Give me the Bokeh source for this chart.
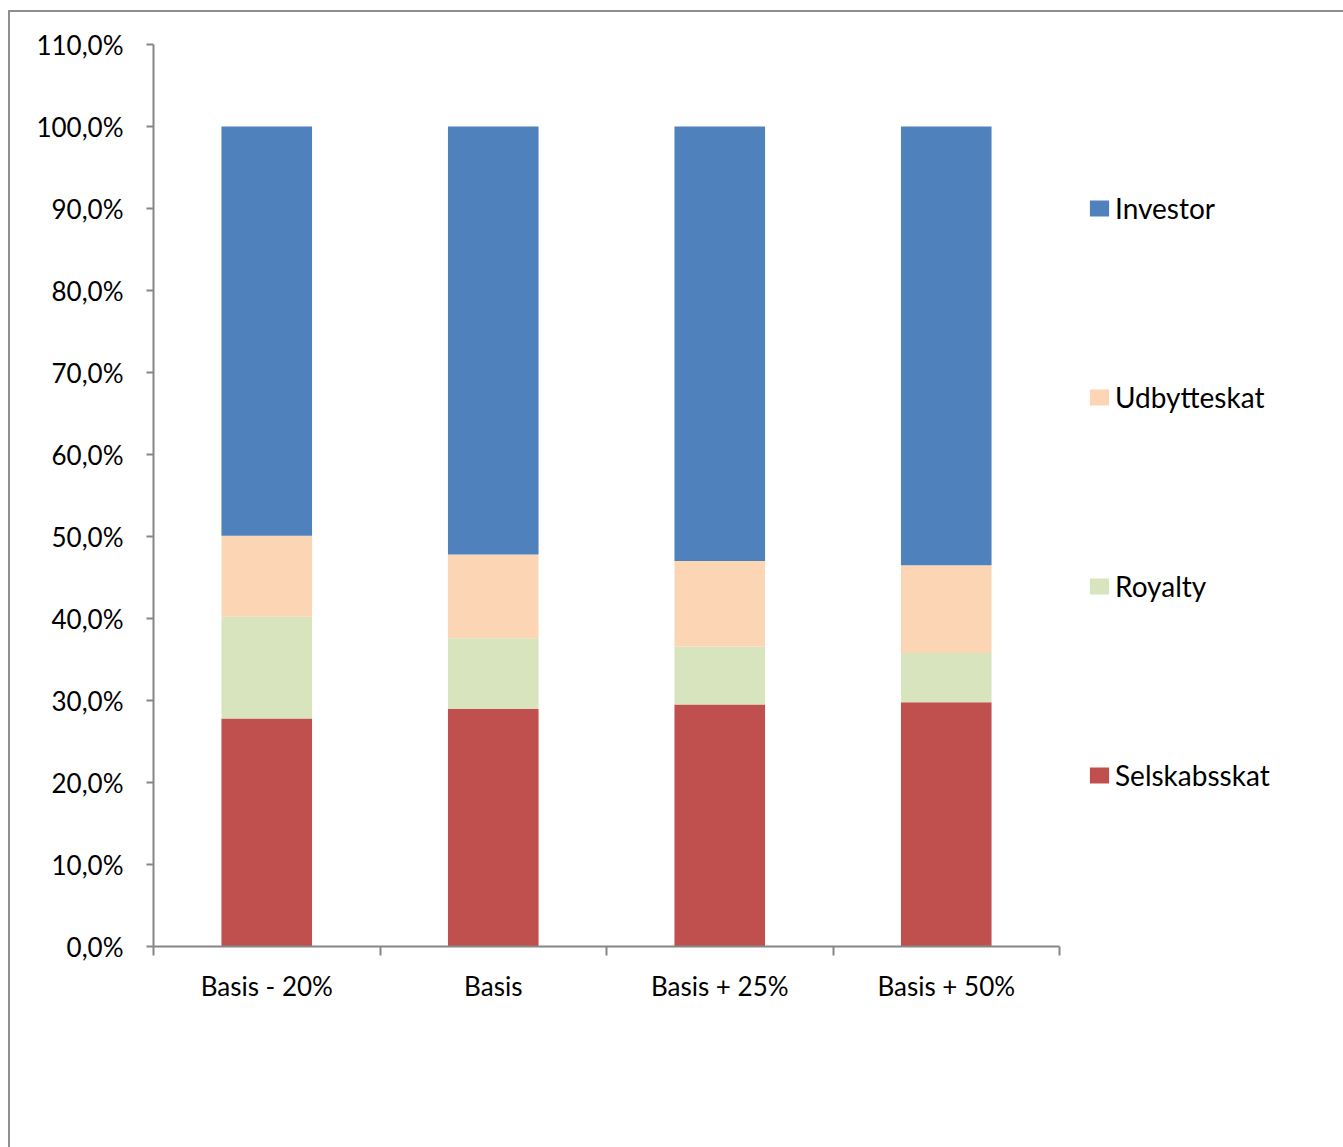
from bokeh.plotting import figure
from bokeh.models import FixedTicker, Legend, LegendItem, ColumnDataSource, Range1d
from bokeh.embed import file_html
from bokeh.resources import INLINE

# ---- data ----
scenarios = ["Basis - 20%", "Basis", "Basis + 25%", "Basis + 50%"]
series = ["Selskabsskat", "Royalty", "Udbytteskat", "Investor"]
selskabsskat = [27.8, 29.0, 29.5, 29.8]
royalty = [12.4, 8.6, 7.1, 6.0]
udbytteskat = [9.9, 10.2, 10.4, 10.7]
investor = [49.9, 52.2, 53.0, 53.5]
colors = ["#C0504D", "#D7E4BD", "#FCD5B5", "#4F81BD"]
y_ticks = [0, 10, 20, 30, 40, 50, 60, 70, 80, 90, 100, 110]
y_tick_labels = ["0,0%", "10,0%", "20,0%", "30,0%", "40,0%", "50,0%",
                 "60,0%", "70,0%", "80,0%", "90,0%", "100,0%", "110,0%"]

n = len(scenarios)
centers = [i + 0.5 for i in range(n)]
bounds = [float(i) for i in range(n + 1)]

source = ColumnDataSource(dict(x=centers, Selskabsskat=selskabsskat, Royalty=royalty,
                               Udbytteskat=udbytteskat, Investor=investor))

FONT = "Lato"
AX = "#868686"
FS = "26px"

AXIS_PX = 906          # pixel length of the category axis
FRAME_W = 1190         # frame extends to the right edge (room for legend)

p = figure(frame_width=FRAME_W, frame_height=902,
           min_border_left=143, min_border_top=32, min_border_right=0, min_border_bottom=201,
           x_range=Range1d(0, n * FRAME_W / AXIS_PX), y_range=Range1d(0, 110),
           output_backend="svg", toolbar_location=None)
p.styles = {"margin-left": "8px", "margin-top": "10px",
            "border-left": "2px solid #8f8f8f", "border-top": "2px solid #8f8f8f"}
p.xgrid.visible = False
p.ygrid.visible = False
p.outline_line_color = None
p.background_fill_color = "white"
p.border_fill_color = "white"

renderers = p.vbar_stack(series, x="x", width=0.4, color=colors, line_color=None, source=source)

# y axis
ya = p.yaxis[0]
ya.ticker = FixedTicker(ticks=y_ticks)
ya.major_label_overrides = {t: l for t, l in zip(y_ticks, y_tick_labels)}
ya.axis_line_color = AX
ya.axis_line_width = 2
ya.major_tick_line_color = AX
ya.major_tick_line_width = 2
ya.major_tick_in = 0
ya.major_tick_out = 7
ya.minor_tick_line_color = None
ya.major_label_standoff = 23
ya.major_label_text_font = FONT
ya.major_label_text_font_size = FS
ya.major_label_text_color = "black"

# x axis
xa = p.xaxis[0]
xa.bounds = (0, n)
xa.ticker = FixedTicker(ticks=centers, minor_ticks=bounds)
xa.major_label_overrides = {c: s for c, s in zip(centers, scenarios)}
xa.axis_line_color = AX
xa.axis_line_width = 2
xa.major_tick_line_color = None
xa.major_tick_in = 0
xa.major_tick_out = 0
xa.minor_tick_line_color = AX
xa.minor_tick_line_width = 2
xa.minor_tick_in = 0
xa.minor_tick_out = 9
xa.major_label_standoff = 14
xa.major_label_text_font = FONT
xa.major_label_text_font_size = FS
xa.major_label_text_color = "black"

items = [LegendItem(label=name, renderers=[r]) for name, r in zip(series, renderers)]
items.reverse()
legend = Legend(items=items, location=(934, 154), orientation="vertical",
                glyph_width=24, glyph_height=20, label_height=16, spacing=155,
                padding=0, margin=0, label_standoff=4,
                border_line_color=None, background_fill_alpha=0,
                label_text_font=FONT, label_text_font_size="28px", label_text_color="black")
p.add_layout(legend)

open("out.html", "w").write(file_html(p, INLINE))
